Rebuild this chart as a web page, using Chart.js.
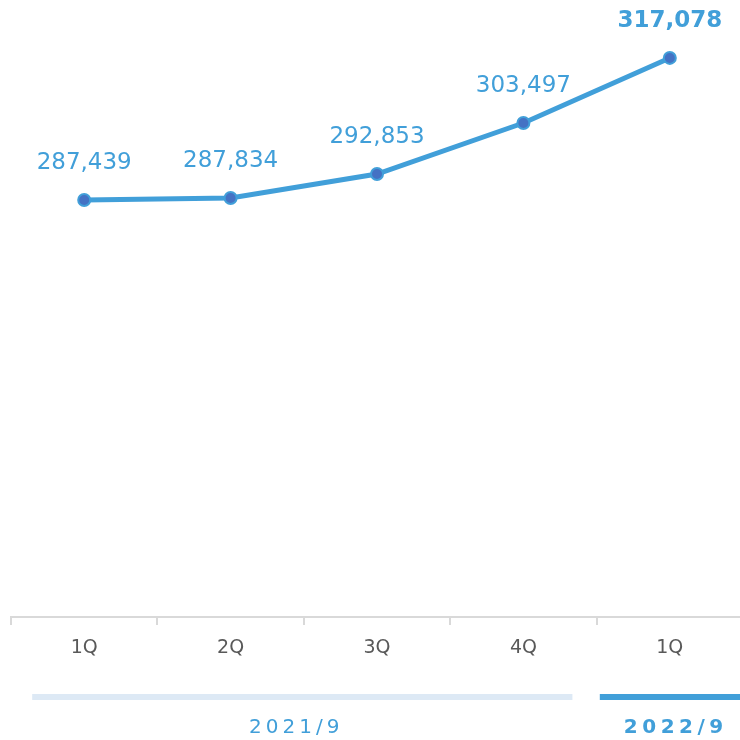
<!DOCTYPE html>
<html>
<head>
<meta charset="utf-8">
<script src="https://cdn.jsdelivr.net/npm/chart.js@4/dist/chart.umd.min.js"></script>
<style>
  html, body { margin: 0; padding: 0; background: #fff; overflow: hidden; }
  #myChart { display: block; }
</style>
</head>
<body>
<canvas id="myChart" width="751" height="740"></canvas>
<script>
// data
var quarters = ["1Q", "2Q", "3Q", "4Q", "1Q"];
var values = [287439, 287834, 292853, 303497, 317078];
var groupNames = ["2021/9", "2022/9"];
var groupStart = [0, 4];
var groupEnd = [3, 4];

var blue = "#419fd9";
var pointBlue = "#4472c4";
var fontFam = "'DejaVu Sans', Verdana, sans-serif";

// value labels above each point + period bars under the axis
var labelPlugin = {
  id: "labels",
  afterDatasetsDraw: function (chart) {
    var ctx = chart.ctx;
    var meta = chart.getDatasetMeta(0);
    ctx.save();
    ctx.textAlign = "center";
    ctx.textBaseline = "middle";
    ctx.fillStyle = blue;
    meta.data.forEach(function (pt, i) {
      var last = i === values.length - 1;
      ctx.font = (last ? "bold " : "") + "23px " + fontFam;
      ctx.fillText(values[i].toLocaleString("en-US"), pt.x, pt.y - 37);
    });
    ctx.restore();
  },
  afterDraw: function (chart) {
    var ctx = chart.ctx;
    var x = chart.scales.x;
    ctx.save();
    // 2021/9 bar
    var l0 = x.getPixelForValue(groupStart[0]) - 52;
    var r0 = x.getPixelForValue(groupEnd[0]) + 49;
    ctx.fillStyle = "#dde9f5";
    ctx.fillRect(l0, 694, r0 - l0, 6);
    // 2022/9 bar
    var l1 = x.getPixelForValue(groupStart[1]) - 70;
    ctx.fillStyle = blue;
    ctx.fillRect(l1, 694, chart.width - l1, 6);

    ctx.textAlign = "center";
    ctx.textBaseline = "middle";
    ctx.letterSpacing = "4px";
    ctx.fillStyle = blue;
    ctx.font = "20px " + fontFam;
    ctx.fillText(groupNames[0], (l0 + r0) / 2 - 6, 728);
    ctx.letterSpacing = "4.5px";
    ctx.font = "bold 20px " + fontFam;
    ctx.fillText(groupNames[1], x.getPixelForValue(groupStart[1]) + 6, 728);
    ctx.restore();
  }
};

var ctx = document.getElementById("myChart").getContext("2d");
var chart = new Chart(ctx, {
  type: "line",
  data: {
    labels: quarters,
    datasets: [
      {
        data: values,
        borderColor: blue,
        borderWidth: 5,
        pointRadius: 6,
        pointBorderWidth: 2,
        pointBackgroundColor: pointBlue,
        pointBorderColor: blue,
        tension: 0,
      },
    ],
  },
  options: {
    responsive: false,
    animation: false,
    layout: { padding: { left: 11, right: 1, top: 42, bottom: 0 } },
    plugins: { legend: { display: false }, tooltip: { enabled: false } },
    scales: {
      y: { display: false, min: 200400, max: 320400 },
      x: {
        offset: true,
        grid: {
          offset: true,
          drawOnChartArea: false,
          drawTicks: true,
          tickLength: 8,
          color: "#d9d9d9",
          lineWidth: 2,
        },
        border: { color: "#d9d9d9", width: 2 },
        ticks: {
          color: "#595959",
          padding: 12,
          font: { family: fontFam, size: 19 },
          maxRotation: 0,
        },
        afterFit: function (scale) {
          scale.height = 123;
        },
      },
    },
  },
  plugins: [labelPlugin],
});
</script>
</body>
</html>
